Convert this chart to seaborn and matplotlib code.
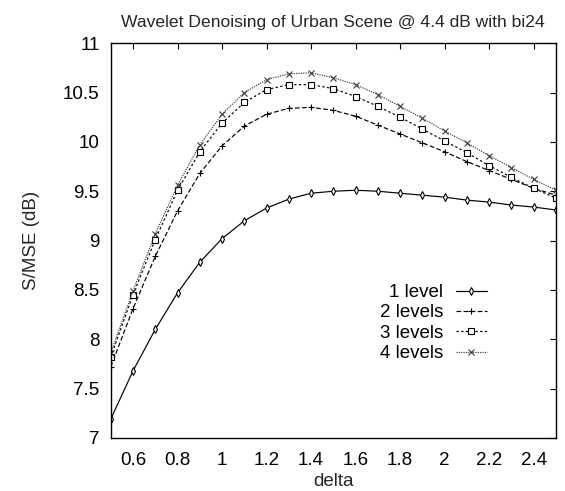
import matplotlib
matplotlib.use("Agg")
import matplotlib.pyplot as plt
import seaborn as sns
import numpy as np
import pandas as pd

delta = [0.5, 0.6, 0.7, 0.8, 0.9, 1.0, 1.1, 1.2, 1.3, 1.4, 1.5,
         1.6, 1.7, 1.8, 1.9, 2.0, 2.1, 2.2, 2.3, 2.4, 2.5]
level1 = [7.19, 7.68, 8.10, 8.47, 8.78, 9.02, 9.20, 9.33, 9.42, 9.48, 9.50,
          9.51, 9.50, 9.48, 9.46, 9.44, 9.41, 9.39, 9.36, 9.34, 9.31]
level2 = [7.72, 8.31, 8.84, 9.30, 9.68, 9.96, 10.16, 10.28, 10.34, 10.35, 10.32,
          10.26, 10.17, 10.08, 9.99, 9.90, 9.80, 9.71, 9.62, 9.53, 9.46]
level3 = [7.82, 8.45, 9.01, 9.51, 9.90, 10.19, 10.40, 10.53, 10.58, 10.58, 10.54,
          10.46, 10.36, 10.25, 10.13, 10.01, 9.89, 9.76, 9.64, 9.53, 9.43]
level4 = [7.86, 8.49, 9.07, 9.56, 9.97, 10.28, 10.50, 10.63, 10.69, 10.70, 10.65,
          10.58, 10.48, 10.36, 10.24, 10.11, 9.99, 9.86, 9.74, 9.62, 9.51]
labels = ["1 level", "2 levels", "3 levels", "4 levels"]
title = "Wavelet Denoising of Urban Scene @ 4.4 dB with bi24"
xticks = [0.6, 0.8, 1.0, 1.2, 1.4, 1.6, 1.8, 2.0, 2.2, 2.4]
xticklabels = ["0.6", "0.8", "1", "1.2", "1.4", "1.6", "1.8", "2", "2.2", "2.4"]
yticks = [7, 7.5, 8, 8.5, 9, 9.5, 10, 10.5, 11]
yticklabels = ["7", "7.5", "8", "8.5", "9", "9.5", "10", "10.5", "11"]

sns.set_theme(style="white")
plt.rcParams["font.family"] = ["Liberation Sans", "DejaVu Sans"]

fig = plt.figure(figsize=(5.65, 4.91), dpi=100)
ax = fig.add_axes([0.196, 0.108, 0.788, 0.804])

styles = [
    dict(marker="d", linestyle="-", color="black", markersize=4.2, markerfacecolor="white"),
    dict(marker="+", linestyle=(0, (4, 2)), color="black", markersize=5, markerfacecolor="black"),
    dict(marker="s", linestyle=(0, (2, 2)), color="black", markersize=4.5, markerfacecolor="white"),
    dict(marker="x", linestyle=(0, (1, 1)), color="#3a3a3a", markersize=4.2, markerfacecolor="#3a3a3a"),
]
series = [level1, level2, level3, level4]
for vals, lab, st in zip(series, labels, styles):
    df = pd.DataFrame({"delta": delta, "val": vals})
    n_before = len(ax.lines)
    sns.lineplot(data=df, x="delta", y="val", ax=ax, label=lab, color=st["color"])
    line = ax.lines[n_before]
    line.set_linestyle(st["linestyle"])
    line.set_linewidth(0.85)
    line.set_marker(st["marker"])
    line.set_markersize(st["markersize"])
    line.set_markerfacecolor(st["markerfacecolor"])
    line.set_markeredgecolor(st["color"])
    line.set_markeredgewidth(0.8)

ax.set_xlim(0.5, 2.5)
ax.set_ylim(7, 11)
ax.set_xticks(xticks)
ax.set_xticklabels(xticklabels)
ax.set_yticks(yticks)
ax.set_yticklabels(yticklabels)
ax.tick_params(direction="in", length=4.5, width=0.8, top=True, right=True,
               labelsize=13.5, colors="black")
ax.tick_params(axis="x", pad=10)
ax.tick_params(axis="y", pad=8)
for sp in ax.spines.values():
    sp.set_color("black")
    sp.set_linewidth(1.0)
ax.set_xlabel("delta", fontsize=13.5)
ax.set_ylabel("S/MSE (dB)", fontsize=13.5)
ax.xaxis.set_label_coords(0.5, -0.089)
ax.yaxis.set_label_coords(-0.16, 0.5)
ax.set_title(title, fontsize=12.6, pad=12)

leg = ax.legend(loc="upper right", bbox_to_anchor=(0.845, 0.39), markerfirst=False,
                frameon=False, fontsize=13.5, handlelength=1.65, labelspacing=0.17,
                borderaxespad=0, borderpad=0, handletextpad=0.7)
for t in leg.get_texts():
    t.set_color("black")

fig.savefig("out.png", dpi=100)
